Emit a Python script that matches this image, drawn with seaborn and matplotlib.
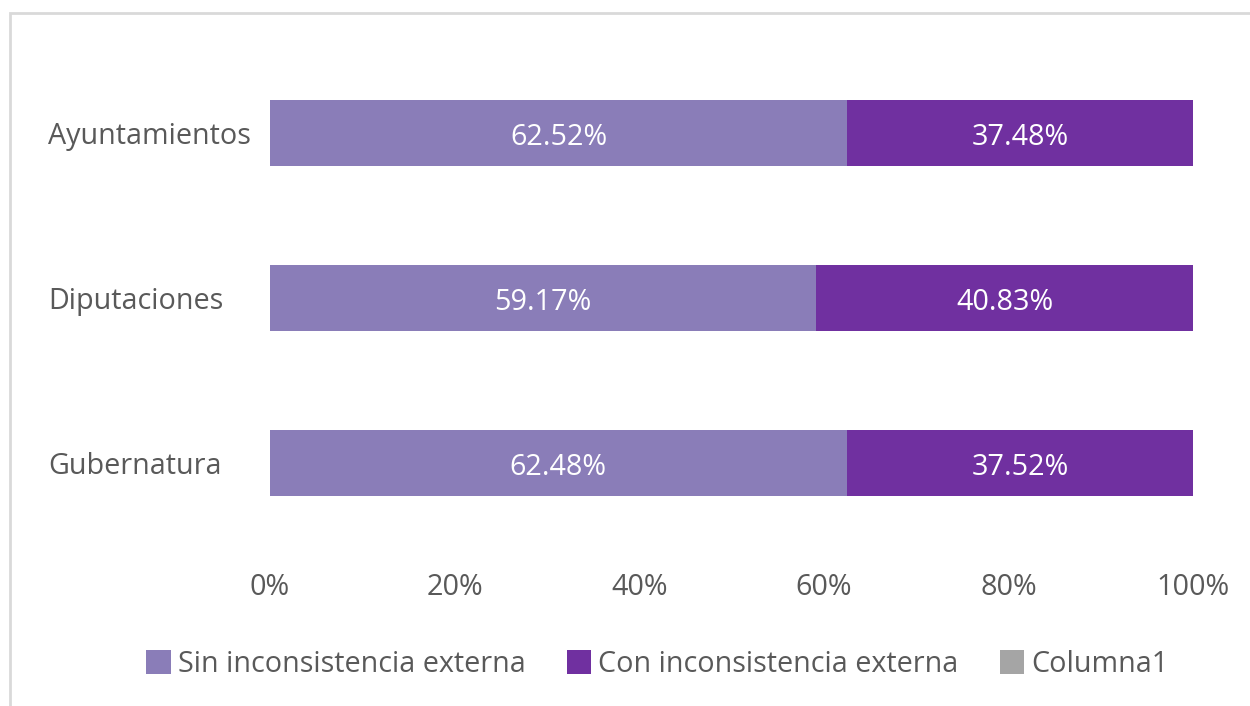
import pandas as pd
import matplotlib.pyplot as plt
import seaborn as sns
from matplotlib.patches import Patch, Rectangle

categories = ['Ayuntamientos', 'Diputaciones', 'Gubernatura']
sin_inconsistencia = [62.52, 59.17, 62.48]
con_inconsistencia = [37.48, 40.83, 37.52]
columna1 = [0, 0, 0]
series_names = ['Sin inconsistencia externa', 'Con inconsistencia externa', 'Columna1']
xticks = [0, 20, 40, 60, 80, 100]

colors = ['#8A7DB8', '#7030A0', '#A5A5A5']
text_color = '#595959'
fs = 20.7

sns.set_style('white')
plt.rcParams['font.family'] = ['Open Sans', 'DejaVu Sans']

df = pd.DataFrame({'categoria': categories,
                   'sin': sin_inconsistencia,
                   'con': con_inconsistencia,
                   'col1': columna1})
df['total'] = df['sin'] + df['con']

fig = plt.figure(figsize=(12.5, 7.06), dpi=100)
ax = fig.add_axes([0.216, 0.2273, 0.7384, 0.7012])

# stacked bars: draw the total first, then the first segment on top
sns.barplot(data=df, y='categoria', x='total', color=colors[1], width=0.4,
            saturation=1, orient='h', linewidth=0, ax=ax)
sns.barplot(data=df, y='categoria', x='sin', color=colors[0], width=0.4,
            saturation=1, orient='h', linewidth=0, ax=ax)

for i, row in df.iterrows():
    ax.text(row['sin'] / 2, i + 0.03, f"{row['sin']:.2f}%", ha='center', va='center',
            color='white', fontsize=fs)
    ax.text(row['sin'] + row['con'] / 2, i + 0.03, f"{row['con']:.2f}%", ha='center',
            va='center', color='white', fontsize=fs)

ax.set_xlim(0, 100)
ax.set_ylim(2.5, -0.5)
ax.set_xticks(xticks)
ax.set_xticklabels([f'{t}%' for t in xticks])
ax.set_xlabel('')
ax.set_ylabel('')
ax.tick_params(axis='x', length=0, pad=20, labelsize=fs, labelcolor=text_color)
ax.tick_params(axis='y', length=0, pad=160, labelsize=fs, labelcolor=text_color)
for lbl in ax.get_yticklabels():
    lbl.set_horizontalalignment('left')
sns.despine(ax=ax, left=True, bottom=True)

handles = [Patch(facecolor=c, edgecolor='none') for c in colors]
fig.legend(handles, series_names, loc='center', bbox_to_anchor=(0.526, 0.059),
           ncol=3, frameon=False, fontsize=fs, handlelength=0.85, handleheight=0.87,
           handletextpad=0.25, columnspacing=1.43, labelcolor=text_color)

# chart area border (cut off by the image edge on the right and bottom)
fig.patches.append(Rectangle((10 / 1250, -0.05), 1.05, 0.05 + 1 - 13 / 706,
                             transform=fig.transFigure, fill=False,
                             edgecolor='#D9D9D9', linewidth=2))

fig.savefig('out.png', dpi=100)
